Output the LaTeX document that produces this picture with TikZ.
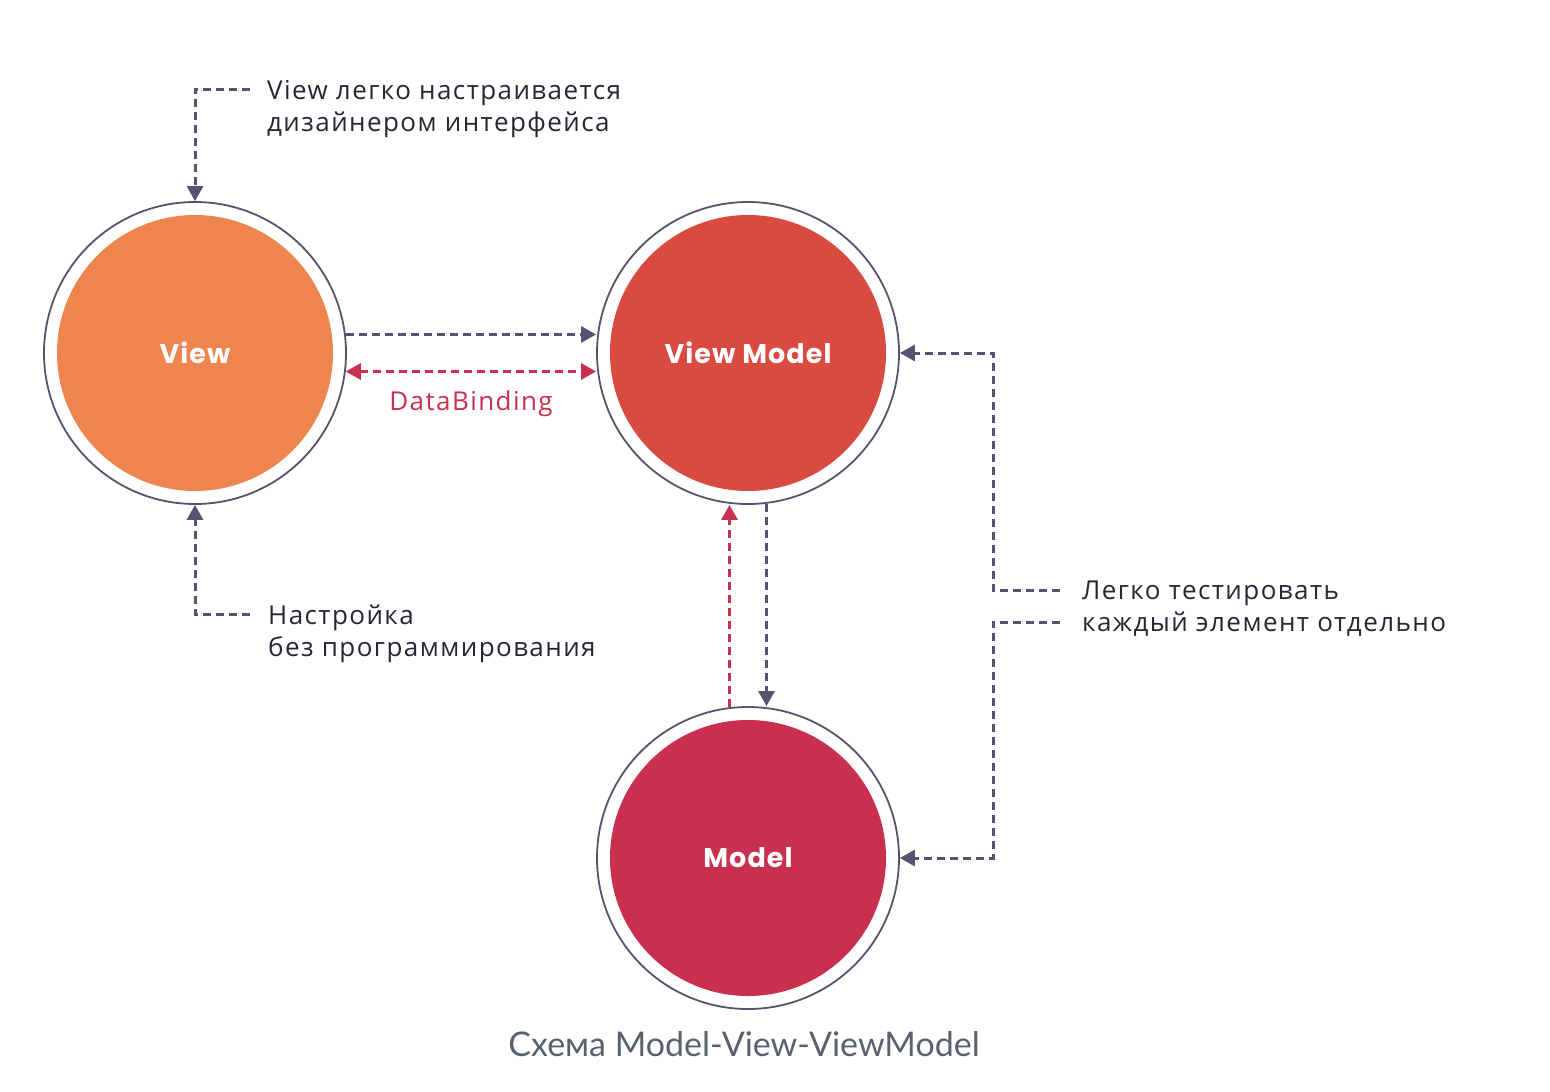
\documentclass[tikz,border=0pt]{standalone}
\usepackage{fontspec}
\setmainfont{Open Sans}[LetterSpace=5.5]
\newfontfamily\labelfont{Poppins}[LetterSpace=4]
\newfontfamily\captionfont{Lato}
\usetikzlibrary{arrows.meta}
\definecolor{ring}{HTML}{55536F}
\definecolor{viewc}{HTML}{EE844E}
\definecolor{vmc}{HTML}{D94A40}
\definecolor{modelc}{HTML}{C92F4F}
\definecolor{textc}{HTML}{262637}
\definecolor{capc}{HTML}{5B6070}
\tikzset{
  outer/.style={circle, draw=ring, line width=1.8, fill=white, minimum size=302, inner sep=0},
  inner/.style={circle, minimum size=276, inner sep=0, text=white, font=\labelfont\bfseries\fontsize{27}{30}\selectfont},
  grayarrow/.style={draw=ring, line width=3, dash pattern=on 8pt off 5pt, -{Triangle[width=16pt,length=15pt]}},
  redarrow/.style={draw=modelc, line width=3, dash pattern=on 8pt off 5pt, -{Triangle[width=16pt,length=15pt]}},
  note/.style={text=textc, align=left, font=\fontsize{26}{32}\selectfont, inner sep=0}
}
\begin{document}
\begin{tikzpicture}[x=1pt,y=-1pt]
\useasboundingbox (0,0) rectangle (1550,1092);
% circles
\node[outer] (view) at (195,353) {};
\node[inner, fill=viewc] (viewin) at (view.center) {View};
\node[outer] (vm) at (748,353) {};
\node[inner, fill=vmc] (vmin) at (vm.center) {View Model};
\node[outer] (model) at (748,858) {};
\node[inner, fill=modelc] (modelin) at (model.center) {Model};

% notes
\node[note, anchor=west] (tnote) at (267,109) {View легко настраивается\\дизайнером интерфейса};
\node[note, anchor=west] (bnote) at (268,634) {Настройка\\без программирования};
\node[note, anchor=west] (rnote) at (1082,609) {Легко тестировать\\каждый элемент отдельно};
\coordinate (tstart) at (250,89);
\coordinate (bstart) at (250,614);
\coordinate (rup) at (1060,590);
\coordinate (rdown) at (1060,622);

% connectors
\draw[grayarrow] (tstart) -| (view.north);
\draw[grayarrow] (bstart) -| (view.south);
\draw[grayarrow] (view.7.2) -- (view.7.2 -| vm.west);
\draw[redarrow, {Triangle[width=16pt,length=15pt]}-{Triangle[width=16pt,length=15pt]}] (view.-7.2) -- (view.-7.2 -| vm.west);
\node[text=modelc, font=\fontsize{26}{28}\selectfont] (db) at (471,404) {DataBinding};
\draw[redarrow] (model.97.2) -- (model.97.2 |- vm.south);
\draw[grayarrow] (vm.-83.2) -- (vm.-83.2 |- model.north);
\draw[grayarrow] (rup) -- ++(-67,0) |- (vm.east);
\draw[grayarrow] (rdown) -- ++(-67,0) |- (model.east);

\node[text=capc, font=\captionfont\fontsize{34}{38}\selectfont] (cap) at (744,1044) {Схема Model-View-ViewModel};
\end{tikzpicture}
\end{document}
